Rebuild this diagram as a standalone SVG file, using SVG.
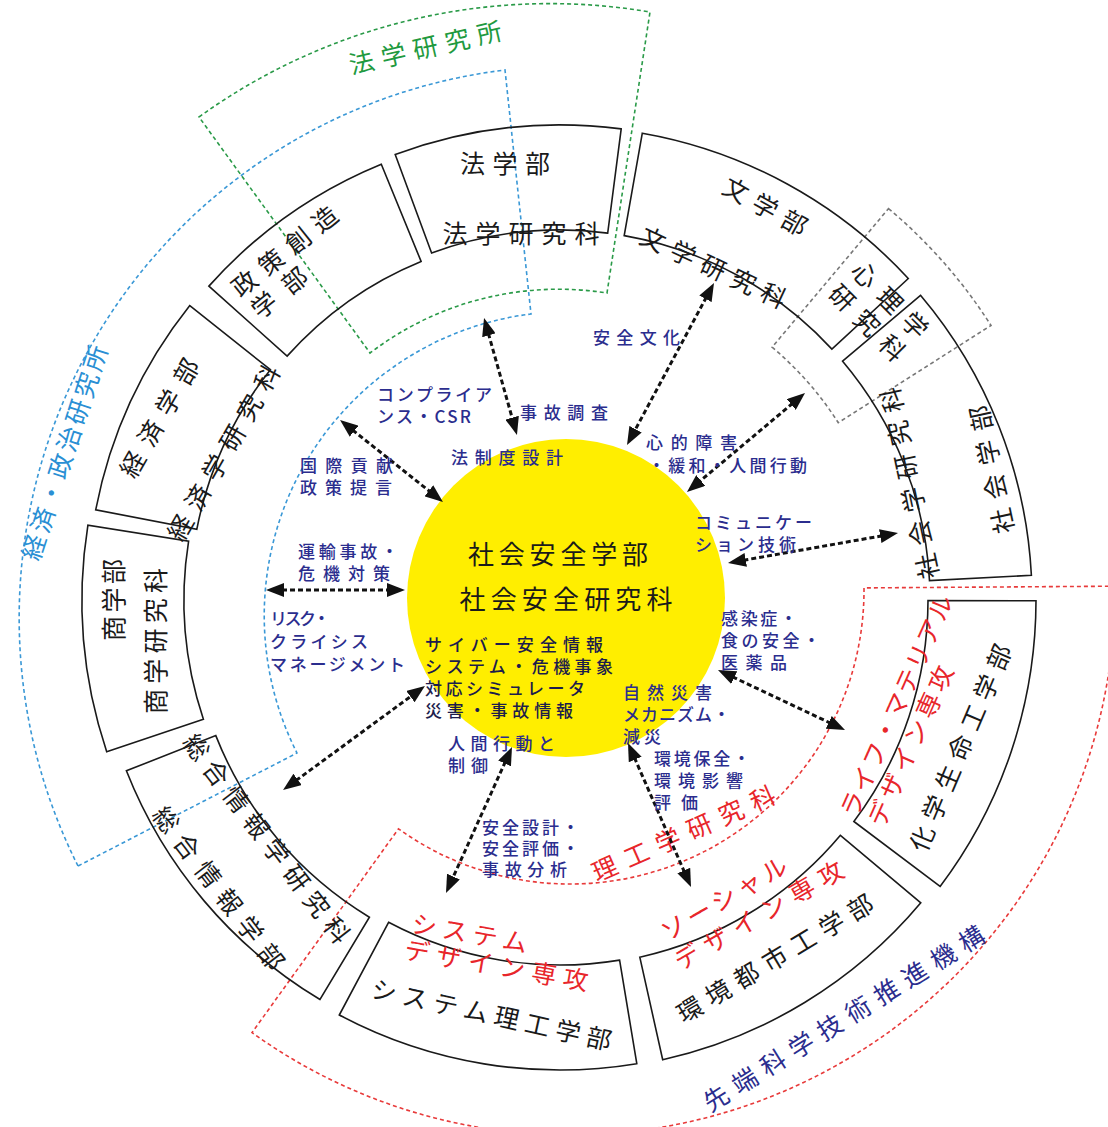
<svg xmlns="http://www.w3.org/2000/svg" width="1108" height="1127" viewBox="0 0 1108 1127">
<defs>
<style>
.box{fill:none;stroke:#1a1a1a;stroke-width:1.6}
.dash{fill:none;stroke-width:1.6;stroke-dasharray:4 3}
.g{stroke:#2a9a48}
.b{stroke:#3a98d6}
.r{stroke:#e83a3a}
.gr{stroke:#777}
.t{font-family:"Noto Sans CJK JP","Noto Sans CJK SC",sans-serif;font-size:25px;fill:#1a1a1a;text-anchor:middle;dominant-baseline:central}
.red{fill:#e8262b}
.grn{fill:#1f9a40}
.blu{fill:#2a8fd4}
.nav{fill:#2b2d8e}
.lab{font-family:"Noto Sans CJK JP","Noto Sans CJK SC",sans-serif;font-size:17px;font-weight:500;fill:#2b2d8e;dominant-baseline:central}
.in{fill:#1c1c4c}
.ctr{font-family:"Noto Sans CJK JP","Noto Sans CJK SC",sans-serif;font-size:26px;fill:#1a1a1a;text-anchor:middle;dominant-baseline:central}
.arr{fill:none;stroke:#111;stroke-width:3;stroke-dasharray:5 3}
</style>
<marker id="ah" viewBox="0 0 18 14" markerWidth="18" markerHeight="14" refX="10" refY="7" orient="auto-start-reverse" markerUnits="userSpaceOnUse"><path d="M0,0 L18,7 L0,14 z" fill="#111"/></marker>
</defs>
<rect width="1108" height="1127" fill="#fff"/>

<g id="regions">
<g id="hogaku-kenkyujo">
<path class="dash g" d="M199,117 A600,600 0 0 1 650,12 L607,293 A311,311 0 0 0 370,353 Z"/>
<text class="t grn" transform="translate(425,46) rotate(-13)" textLength="156" lengthAdjust="spacing">法学研究所</text>
</g>
<g id="keizai-seiji-kenkyujo">
<path class="dash b" d="M78,866 A552,552 0 0 1 505,70 L531,314 A304,304 0 0 0 297,753 Z"/>
<text class="t blu" transform="translate(63,452) rotate(-72)" textLength="224" lengthAdjust="spacing">経済・政治研究所</text>
</g>
<g id="shinri-group">
<path class="dash gr" d="M888.5,208.6 A511,511 0 0 1 991,325.4 L838.3,422.7 A330,330 0 0 0 772.1,347.2 Z"/>
</g>
<g id="sentan-kiko">
<path class="dash r" d="M1115,586.2 A545,545 0 0 1 252,1032.6 L398.5,828.8 A294,294 0 0 0 864,587.9 Z"/>
<text class="t nav" transform="translate(843,1017) rotate(-32)" textLength="326" lengthAdjust="spacing">先端科学技術推進機構</text>
<text class="t red" transform="translate(683,832) rotate(-24)" textLength="198" lengthAdjust="spacing">理工学研究科</text>
</g>
</g>

<g id="center">
<circle cx="566" cy="598" r="159" fill="#FFEE00"/>
<text class="ctr" x="558" y="552" textLength="180" lengthAdjust="spacing">社会安全学部</text>
<text class="ctr" x="566" y="597" textLength="213" lengthAdjust="spacing">社会安全研究科</text>
<text class="lab in"><tspan x="425" y="643" textLength="178" lengthAdjust="spacing">サイバー安全情報</tspan><tspan x="425" y="665" textLength="188" lengthAdjust="spacing">システム・危機事象</tspan><tspan x="425" y="687" textLength="160" lengthAdjust="spacing">対応シミュレータ</tspan><tspan x="425" y="709" textLength="148" lengthAdjust="spacing">災害・事故情報</tspan></text>
</g>

<g id="hogakubu">
<path class="box" d="M395.2,154.5 A475,475 0 0 1 621.2,128.9 L607.7,233.1 A370,370 0 0 0 431.6,253 Z"/>
<text class="t" transform="translate(505,162)" textLength="90" lengthAdjust="spacing">法学部</text>
<text class="t" transform="translate(521,232)" textLength="157" lengthAdjust="spacing">法学研究科</text>
</g>
<g id="bungakubu">
<path class="box" d="M642.3,133.2 A474,474 0 0 1 908.3,278.5 L831.9,349.1 A370,370 0 0 0 624.2,235.6 Z"/>
<text class="t" transform="translate(766,205) rotate(29)" textLength="92" lengthAdjust="spacing">文学部</text>
<text class="t" transform="translate(714,266) rotate(25)" textLength="158" lengthAdjust="spacing">文学研究科</text>
</g>
<g id="shinrigaku">
<text class="t" transform="translate(891,299) rotate(45)"><tspan x="0" y="0" textLength="96" lengthAdjust="spacing">心理学</tspan><tspan x="0" y="32" textLength="96" lengthAdjust="spacing">研究科</tspan></text>
</g>
<g id="shakaigakubu">
<path class="box" d="M920.5,295.3 A472,472 0 0 1 1031.4,575.3 L929.5,580.6 A370,370 0 0 0 842.6,361.2 Z"/>
<text class="t" transform="translate(990,470) rotate(-102)"><tspan x="0" y="0" textLength="130" lengthAdjust="spacing">社会学部</tspan><tspan x="4" y="-83" textLength="195" lengthAdjust="spacing">社会学研究科</tspan></text>
</g>
<g id="kagaku-seimei">
<path class="box" d="M1036,600.8 A476,476 0 0 1 940.1,886.5 L853.9,821.5 A368,368 0 0 0 928,600.6 Z"/>
<text class="t" transform="translate(959,747) rotate(-67)" textLength="222" lengthAdjust="spacing">化学生命工学部</text>
<text class="t red" transform="translate(895,705) rotate(-66)"><tspan x="0" y="0" textLength="240" lengthAdjust="spacing">ライフ・マテリアル</tspan><tspan x="-31" y="29" textLength="173" lengthAdjust="spacing">デザイン専攻</tspan></text>
</g>
<g id="kankyo-toshi">
<path class="box" d="M920.8,902.8 A471,471 0 0 1 662.7,1059.7 L639.8,957.2 A366,366 0 0 0 840.4,835.3 Z"/>
<text class="t" transform="translate(774,957) rotate(-31)" textLength="224" lengthAdjust="spacing">環境都市工学部</text>
<text class="t red" transform="translate(723,897) rotate(-30)"><tspan x="0" y="0" textLength="141" lengthAdjust="spacing">ソーシャル</tspan><tspan x="22" y="32" textLength="191" lengthAdjust="spacing">デザイン専攻</tspan></text>
</g>
<g id="system-riko">
<path class="box" d="M636.8,1063.7 A470,470 0 0 1 339.3,1015 L388.6,922.3 A365,365 0 0 0 619.6,960.1 Z"/>
<text class="t" transform="translate(492,1013) rotate(12.5)" textLength="245" lengthAdjust="spacing">システム理工学部</text>
<text class="t red" transform="translate(470,931.5) rotate(10)"><tspan x="0" y="0" textLength="117" lengthAdjust="spacing">システム</tspan><tspan x="32" y="27" textLength="186" lengthAdjust="spacing">デザイン専攻</tspan></text>
</g>
<g id="sogo-joho">
<path class="box" d="M320,999.5 A466,466 0 0 1 126.4,770.8 L215.8,735.6 A370,370 0 0 0 369.4,917.2 Z"/>
<text class="t" transform="translate(220,887) rotate(52.5)"><tspan x="0" y="0" textLength="198" lengthAdjust="spacing">総合情報学部</tspan><tspan x="-10" y="-68" textLength="256" lengthAdjust="spacing">総合情報学研究科</tspan></text>
</g>
<g id="shogakubu">
<path class="box" d="M106.7,751.7 A478,478 0 0 1 87.9,525.2 L188.6,541.2 A376,376 0 0 0 203.4,719.3 Z"/>
<text class="t" transform="translate(112,600) rotate(-90)"><tspan x="0" y="0" textLength="82" lengthAdjust="spacing">商学部</tspan><tspan x="-41" y="42" textLength="146" lengthAdjust="spacing">商学研究科</tspan></text>
</g>
<g id="keizaigakubu">
<path class="box" d="M95.7,509.8 A473,473 0 0 1 189.8,305.6 L270.4,369.7 A370,370 0 0 0 196.8,529.4 Z"/>
<text class="t" transform="translate(158,417) rotate(-60)"><tspan x="0" y="0" textLength="132" lengthAdjust="spacing">経済学部</tspan><tspan x="2" y="73" textLength="198" lengthAdjust="spacing">経済学研究科</tspan></text>
</g>
<g id="seisaku-sozo">
<path class="box" d="M208.9,286.1 A471,471 0 0 1 381.3,164.2 L421.1,261.4 A366,366 0 0 0 287.1,356.1 Z"/>
<text class="t" transform="translate(283.5,250) rotate(-38.7)" style="text-anchor:start"><tspan x="-64" y="0" textLength="128" lengthAdjust="spacing">政策創造</tspan><tspan x="-62" y="29" textLength="64" lengthAdjust="spacing">学部</tspan></text>
</g>

<g id="connectors">
<line class="arr" x1="486.2" y1="325.7" x2="514.8" y2="427.3" marker-start="url(#ah)" marker-end="url(#ah)"/>
<line class="arr" x1="710.2" y1="290" x2="630.8" y2="438" marker-start="url(#ah)" marker-end="url(#ah)"/>
<line class="arr" x1="798.9" y1="398.1" x2="693.1" y2="486.9" marker-start="url(#ah)" marker-end="url(#ah)"/>
<line class="arr" x1="890.1" y1="534.4" x2="735.9" y2="561.6" marker-start="url(#ah)" marker-end="url(#ah)"/>
<line class="arr" x1="725.2" y1="673.4" x2="837.8" y2="726.6" marker-start="url(#ah)" marker-end="url(#ah)"/>
<line class="arr" x1="631.2" y1="750.3" x2="687.8" y2="879.7" marker-start="url(#ah)" marker-end="url(#ah)"/>
<line class="arr" x1="508.7" y1="754.3" x2="449.3" y2="885.7" marker-start="url(#ah)" marker-end="url(#ah)"/>
<line class="arr" x1="289.5" y1="785.3" x2="418.5" y2="690.7" marker-start="url(#ah)" marker-end="url(#ah)"/>
<line class="arr" x1="274" y1="590" x2="397" y2="590" marker-start="url(#ah)" marker-end="url(#ah)"/>
<line class="arr" x1="346.3" y1="425" x2="436.7" y2="497" marker-start="url(#ah)" marker-end="url(#ah)"/>
</g>

<g id="labels">
<text class="lab" x="520" y="411" textLength="88" lengthAdjust="spacing">事故調査</text>
<text class="lab" x="451" y="456" textLength="112" lengthAdjust="spacing">法制度設計</text>
<text class="lab"><tspan x="377" y="393" textLength="115" lengthAdjust="spacing">コンプライア</tspan><tspan x="377" y="415" textLength="94" lengthAdjust="spacing">ンス・CSR</tspan></text>
<text class="lab"><tspan x="300" y="464" textLength="93" lengthAdjust="spacing">国際貢献</tspan><tspan x="300" y="486" textLength="92" lengthAdjust="spacing">政策提言</tspan></text>
<text class="lab"><tspan x="298" y="550" textLength="100" lengthAdjust="spacing">運輸事故・</tspan><tspan x="298" y="572" textLength="92" lengthAdjust="spacing">危機対策</tspan></text>
<text class="lab"><tspan x="270" y="617" textLength="60" lengthAdjust="spacing">リスク・</tspan><tspan x="270" y="640" textLength="98" lengthAdjust="spacing">クライシス</tspan><tspan x="270" y="663" textLength="135" lengthAdjust="spacing">マネージメント</tspan></text>
<text class="lab" x="593" y="336" textLength="87" lengthAdjust="spacing">安全文化</text>
<text class="lab"><tspan x="646" y="441" textLength="91" lengthAdjust="spacing">心的障害</tspan><tspan x="648" y="464" textLength="159" lengthAdjust="spacing">・緩和・人間行動</tspan></text>
<text class="lab"><tspan x="695" y="521" textLength="117" lengthAdjust="spacing">コミュニケー</tspan><tspan x="695" y="543" textLength="101" lengthAdjust="spacing">ション技術</tspan></text>
<text class="lab"><tspan x="721" y="617" textLength="76" lengthAdjust="spacing">感染症・</tspan><tspan x="721" y="639" textLength="99" lengthAdjust="spacing">食の安全・</tspan><tspan x="721" y="661" textLength="66" lengthAdjust="spacing">医薬品</tspan></text>
<text class="lab"><tspan x="623" y="691" textLength="89" lengthAdjust="spacing">自然災害</tspan><tspan x="623" y="713" textLength="107" lengthAdjust="spacing">メカニズム・</tspan><tspan x="623" y="735" textLength="38" lengthAdjust="spacing">減災</tspan></text>
<text class="lab"><tspan x="654" y="757" textLength="96" lengthAdjust="spacing">環境保全・</tspan><tspan x="654" y="779" textLength="89" lengthAdjust="spacing">環境影響</tspan><tspan x="654" y="801" textLength="44" lengthAdjust="spacing">評価</tspan></text>
<text class="lab"><tspan x="482" y="826" textLength="97" lengthAdjust="spacing">安全設計・</tspan><tspan x="482" y="847" textLength="97" lengthAdjust="spacing">安全評価・</tspan><tspan x="482" y="868" textLength="85" lengthAdjust="spacing">事故分析</tspan></text>
<text class="lab"><tspan x="448" y="742" textLength="107" lengthAdjust="spacing">人間行動と</tspan><tspan x="448" y="764" textLength="40" lengthAdjust="spacing">制御</tspan></text>
</g>
</svg>
